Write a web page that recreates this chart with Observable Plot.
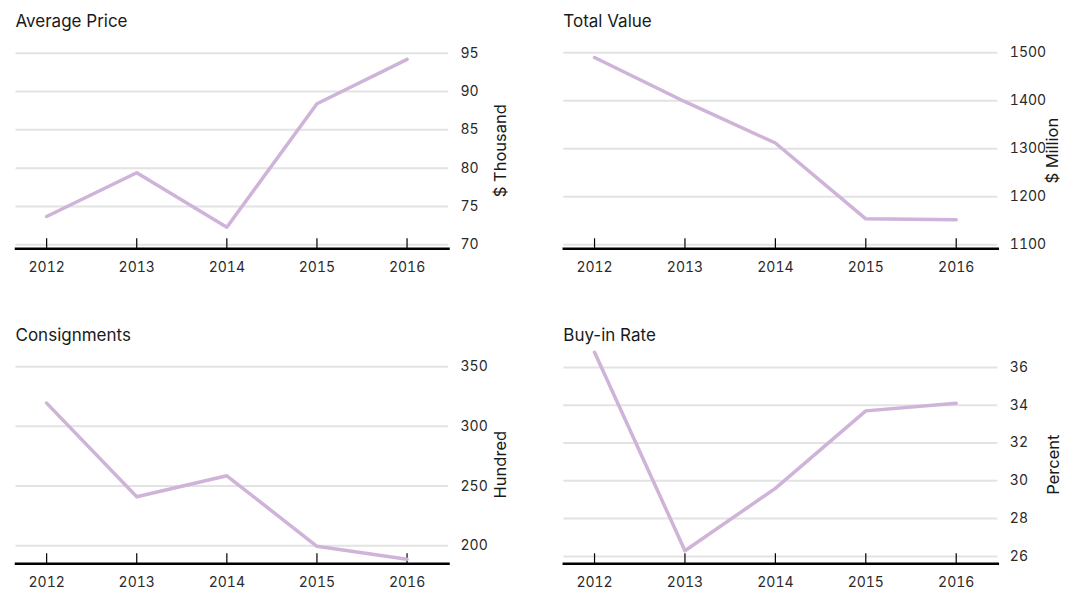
<!DOCTYPE html>
<html>
<head>
<meta charset="utf-8">
<script src="https://cdn.jsdelivr.net/npm/d3@7"></script>
<script src="https://cdn.jsdelivr.net/npm/@observablehq/plot@0.6"></script>
<style>
  html, body { margin: 0; padding: 0; background: #fff; }
  #root { position: relative; width: 1073px; height: 590px; overflow: hidden; font-family: Inter, "Open Sans", sans-serif; color: #1a1a1a; }
  .title { position: absolute; font-size: 17px; line-height: 20px; color: #1a1a1a; white-space: nowrap; }
  .panel { position: absolute; }
</style>
</head>
<body>
<div id="root"></div>
<script>
const years = [2012, 2013, 2014, 2015, 2016];

const avgPrice     = [73.7, 79.4, 72.3, 88.4, 94.2];
const totalValue   = [1490, 1398, 1312, 1154, 1152];
const consignments = [319.5, 241, 258.6, 199.5, 188.7];
const buyInRate    = [36.8, 26.3, 29.6, 33.7, 34.1];

const avgTicks   = [70, 75, 80, 85, 90, 95];
const totalTicks = [1100, 1200, 1300, 1400, 1500];
const consTicks  = [200, 250, 300, 350];
const buyTicks   = [26, 28, 30, 32, 34, 36];

const titles = ["Average Price", "Total Value", "Consignments", "Buy-in Rate"];
const units  = ["$ Thousand", "$ Million", "Hundred", "Percent"];

const lineColor = "#cfb3d8";
const gridColor = "#e3e3e3";

const panels = [
  {title: titles[0], unit: units[0], values: avgPrice, ticks: avgTicks, domain: [69.48, 95.09],
   left: 0, top: 40, width: 536, mL: 15.5, mR: 88, mT: 12, titleLeft: 15.5, titleTop: 11, labelDx: 52},
  {title: titles[1], unit: units[1], values: totalValue, ticks: totalTicks, domain: [1091.6, 1500.5],
   left: 540, top: 40, width: 533, mL: 23.3, mR: 75.7, mT: 12, titleLeft: 563.3, titleTop: 11, labelDx: 55},
  {title: titles[2], unit: units[2], values: consignments, ticks: consTicks, domain: [184.85, 351],
   left: 0, top: 345, width: 536, mL: 15.5, mR: 88, mT: 20, titleLeft: 15.5, titleTop: 325, labelDx: 52},
  {title: titles[3], unit: units[3], values: buyInRate, ticks: buyTicks, domain: [25.61, 36.1],
   left: 540, top: 345, width: 533, mL: 23.3, mR: 75.7, mT: 20, titleLeft: 563.3, titleTop: 325, labelDx: 56}
];

const root = document.getElementById("root");

for (const p of panels) {
  const data = years.map((y, i) => ({year: y, value: p.values[i]}));
  const H = p.top === 40 ? 235 : 245;
  const mB = p.top === 40 ? (275 - 248.3) : (590 - 563.3);
  const frameH = H - p.mT - mB;
  const chart = Plot.plot({
    width: p.width,
    height: H,
    marginLeft: p.mL,
    marginRight: p.mR,
    marginTop: p.mT,
    marginBottom: mB,
    style: {fontFamily: "Inter, 'Open Sans', sans-serif", fontSize: "14px", color: "#1a1a1a", background: "transparent", overflow: "visible"},
    x: {type: "linear", domain: [2011.66, 2016.46]},
    y: {domain: p.domain},
    marks: [
      Plot.gridY(p.ticks, {stroke: gridColor, strokeOpacity: 1, strokeWidth: 2}),
      Plot.axisY(p.ticks, {anchor: "right", tickSize: 0, tickPadding: 12, fontSize: 14, fill: "#2a2a2a",
        tickFormat: d => String(d), label: null}),
      Plot.text([p.unit], {frameAnchor: "right", textAnchor: "middle", lineAnchor: "middle", text: d => d, rotate: -90, dx: p.labelDx, fontSize: 16.5, fill: "#1a1a1a"}),
      Plot.axisX(years, {anchor: "bottom", tickSize: 0, tickPadding: 13, tickFormat: d => String(d), fontSize: 14, fill: "#2a2a2a", label: null}),
      Plot.ruleX(years, {x: d => d, stroke: "#000", strokeWidth: 1.2, insetTop: frameH - 10}),
      Plot.frame({anchor: "bottom", stroke: "#000", strokeWidth: 2.5}),
      Plot.line(data, {x: "year", y: "value", stroke: lineColor, strokeWidth: 3.5, clip: false})
    ]
  });
  chart.classList.add("panel");
  chart.style.left = p.left + "px";
  chart.style.top = p.top + "px";
  root.appendChild(chart);

  const t = document.createElement("div");
  t.className = "title";
  t.textContent = p.title;
  t.style.left = p.titleLeft + "px";
  t.style.top = p.titleTop + "px";
  root.appendChild(t);
}
</script>
</body>
</html>
